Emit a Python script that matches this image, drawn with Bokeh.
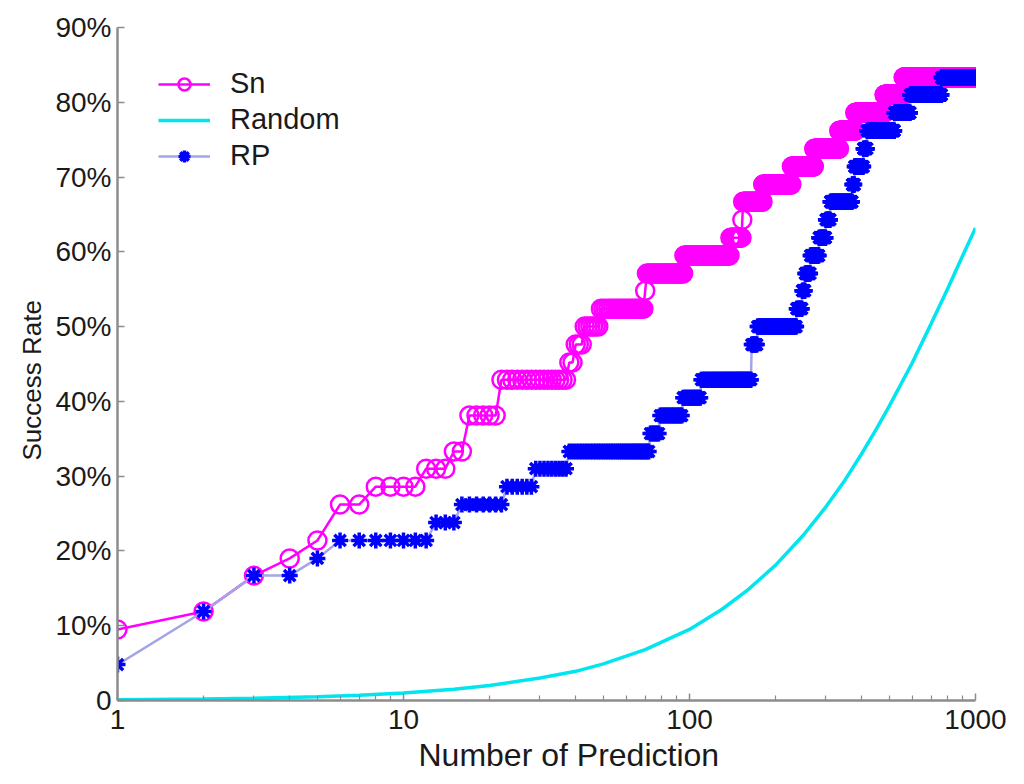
import numpy as np
from bokeh.plotting import figure
from bokeh.models import FixedTicker, CustomJSTickFormatter, Legend, LegendItem, Title
from bokeh.embed import file_html
from bokeh.resources import INLINE

# ---- data ----
# Sn: success rate (%) as a step series, given by the first prediction count of each level
sn_start = [1, 2, 3, 4, 5, 6, 8, 12, 15, 17, 22, 38, 40, 43, 49, 70, 71, 96, 139, 153,
            154, 181, 228, 273, 334, 380, 481, 561]
sn_rate = [9.5, 11.9, 16.7, 19.0, 21.4, 26.2, 28.6, 31.0, 33.3, 38.1, 42.9, 45.2, 47.6, 50.0,
           52.4, 54.8, 57.1, 59.5, 61.9, 64.3, 66.7, 69.0, 71.4, 73.8, 76.2, 78.6, 81.0, 83.3]

# RP: same layout
rp_start = [1, 2, 3, 5, 6, 13, 16, 23, 29, 38, 73, 79, 95, 110, 165, 173, 237, 248, 254, 265,
            284, 300, 311, 371, 378, 406, 418, 521, 591, 761]
rp_rate = [4.8, 11.9, 16.7, 19.0, 21.4, 23.8, 26.2, 28.6, 31.0, 33.3, 35.7, 38.1, 40.5, 42.9,
           47.6, 50.0, 52.4, 54.8, 57.1, 59.5, 61.9, 64.3, 66.7, 69.0, 71.4, 73.8, 76.2, 78.6,
           81.0, 83.3]

# Random baseline (%), read at selected prediction counts
rand_x = [1, 2, 3, 5, 7, 10, 15, 20, 30, 40, 50, 70, 100, 130, 160, 200, 250, 300, 350, 400,
          450, 500, 600, 700, 800, 900, 1000]
rand_y = [0.1, 0.2, 0.3, 0.5, 0.7, 1.0, 1.5, 2.0, 3.0, 3.9, 4.9, 6.8, 9.5, 12.2, 14.8, 18.1,
          22.1, 25.9, 29.5, 33.0, 36.3, 39.4, 45.1, 50.4, 55.1, 59.4, 63.2]

n_max = 1000
x_ticks = [1, 10, 100, 1000]
y_ticks = [0, 10, 20, 30, 40, 50, 60, 70, 80, 90]

# expand the step series to one value per prediction count
n = np.arange(1, n_max + 1)
sn_y = np.array(sn_rate)[np.searchsorted(sn_start, n, side="right") - 1]
rp_y = np.array(rp_rate)[np.searchsorted(rp_start, n, side="right") - 1]

FONT = "Liberation Sans"
TXT = "#1a1a1a"
AX = "#8c8c8c"

p = figure(width=1008, height=776, x_axis_type="log", x_range=(1, 1000), y_range=(0, 90),
           output_backend="svg", toolbar_location=None,
           min_border_left=117, min_border_right=33, min_border_top=27, min_border_bottom=76)
p.outline_line_color = None
p.grid.visible = False
p.background_fill_color = "white"

sn_line = p.line(n, sn_y, line_color="#ff00ff", line_width=2.5)
sn_pts = p.scatter(n, sn_y, marker="circle", size=18, fill_color=None,
                   line_color="#ff00ff", line_width=2.5)
rand_line = p.line(rand_x, rand_y, line_color="#00e5ee", line_width=3.5)
rp_line = p.line(n, rp_y, line_color="#a4a4e8", line_width=2.5)
rp_pts = p.scatter(n, rp_y, marker="asterisk", size=16, line_color="#0000ff", line_width=3.5)

minor = [m * d for d in (1, 10, 100) for m in range(2, 10)]
p.xaxis.ticker = FixedTicker(ticks=x_ticks, minor_ticks=minor)
p.xaxis.formatter = CustomJSTickFormatter(code="return tick.toFixed(0);")
p.yaxis.ticker = FixedTicker(ticks=y_ticks)
p.yaxis.formatter = CustomJSTickFormatter(code="return tick < 0.5 ? '0' : tick.toFixed(0) + '%';")

for ax in (p.xaxis[0], p.yaxis[0]):
    ax.axis_line_color = AX
    ax.axis_line_width = 2.5
    ax.major_tick_line_color = AX
    ax.minor_tick_line_color = AX
    ax.major_tick_line_width = 1.5
    ax.minor_tick_line_width = 1.2
    ax.major_tick_in = 7
    ax.major_tick_out = 0
    ax.minor_tick_in = 5
    ax.minor_tick_out = 0
    ax.major_label_text_font = FONT
    ax.major_label_text_font_size = "28px"
    ax.major_label_text_color = TXT
p.xaxis.major_label_standoff = 9
p.yaxis.major_label_standoff = 6

# axis titles, shifted along their axis as in the reference
p.add_layout(Title(text="Number of Prediction", align="left", offset=301, standoff=6,
                   text_font=FONT, text_font_size="32px", text_color=TXT,
                   text_font_style="normal"), "below")
p.add_layout(Title(text="Success Rate", align="left", offset=240, standoff=11,
                   text_font=FONT, text_font_size="26px", text_color=TXT,
                   text_font_style="normal"), "left")

legend = Legend(items=[
    LegendItem(label="Sn", renderers=[sn_line, sn_pts]),
    LegendItem(label="Random", renderers=[rand_line]),
    LegendItem(label="RP", renderers=[rp_line, rp_pts]),
], location=(41, 528), border_line_color=None, background_fill_alpha=0,
    label_text_font=FONT, label_text_font_size="29px", label_text_color=TXT,
    glyph_width=52, glyph_height=30, label_height=30, spacing=3, padding=12,
    margin=0, label_standoff=20)
p.add_layout(legend)

open("out.html", "w").write(file_html(p, INLINE))
